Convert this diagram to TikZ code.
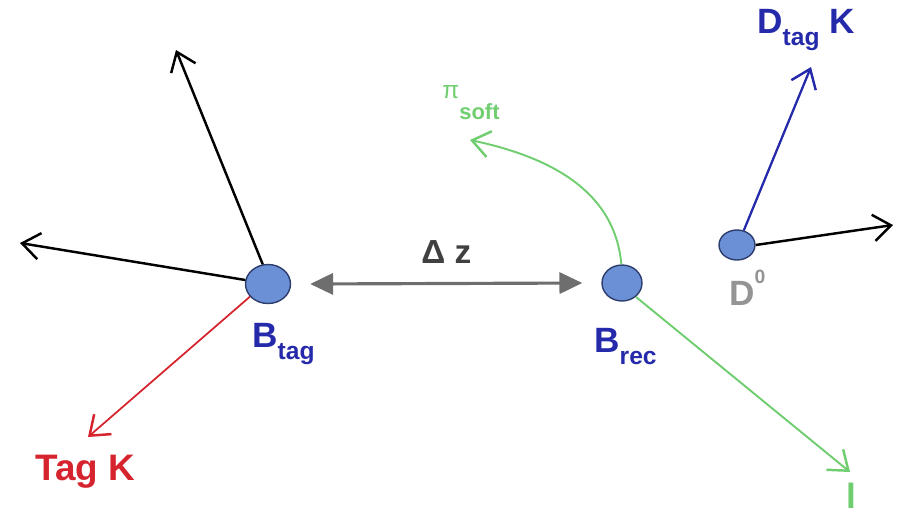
\documentclass[tikz,border=0pt]{standalone}
\usepackage{fontspec}
\setmainfont{Liberation Sans}
\usetikzlibrary{arrows.meta,positioning,shapes.geometric}
\definecolor{vtxblue}{RGB}{108,144,214}
\definecolor{vtxedge}{RGB}{45,62,110}
\definecolor{lblblue}{RGB}{36,42,170}
\definecolor{tagred}{RGB}{214,36,46}
\definecolor{softgreen}{RGB}{112,206,112}
\definecolor{dzgray}{RGB}{110,110,110}
\newcommand\lowsub[1]{\raisebox{-7pt}{\fontsize{14}{16}\selectfont #1}}

\begin{document}
\begin{tikzpicture}[x=0.02cm, y=-0.02cm, every node/.style={font=\fontsize{20}{22}\selectfont\bfseries, anchor=base west, inner sep=0pt},
  vtx/.style={draw=vtxedge, fill=vtxblue, ellipse, line width=0.8pt, anchor=center},
  trk/.style={line width=1.4pt, -{Straight Barb[length=10pt,width=15pt,line width=1.4pt]}}]
  \useasboundingbox (0,0) rectangle (904,511);
  \node[vtx, minimum width=0.9cm, minimum height=0.78cm] (btag) at (268,284) {};
  \node[vtx, minimum width=0.8cm, minimum height=0.72cm] (brec) at (622,283) {};
  \node[vtx, minimum width=0.72cm, minimum height=0.6cm] (dzero) at (737,245) {};
  \node[text=lblblue] (btaglbl) at (252,347) {B\lowsub{tag}};
  \node[text=lblblue] (breclbl) at (594,352) {B\lowsub{rec}};
  \node[text=black!42] (dzerolbl) at (729,305) {D\raisebox{12pt}{\fontsize{11}{13}\selectfont 0}};
  \node[text=tagred, font=\fontsize{21}{23}\selectfont\bfseries] (tagk) at (35,480) {Tag K};
  \node[text=lblblue] (dtagk) at (757,33) {D\lowsub{tag} K};
  \node[text=softgreen, font=\fontsize{14}{16}\selectfont] (pisoft) at (442,98) {π\raisebox{-12pt}{\fontsize{12.5}{14}\selectfont\bfseries soft}};
  \node[text=black!75, font=\fontsize{19}{21}\selectfont\bfseries] (dz) at (421,263) {Δ z};
  \node[text=softgreen] (lep) at (846,508) {l};
  % free track ends
  \coordinate (t1) at (176,50);
  \coordinate (t2) at (20,243);
  \coordinate (t3) at (893,225);
  \coordinate (t4) at (850,472);
  \coordinate (t5) at (470,140);
  \coordinate (t6) at (811,67);
  \coordinate (t7) at (88,437);
  % B tag side
  \draw[trk] (btag.105) -- (t1);
  \draw[trk] (btag.170) -- (t2);
  \draw[trk, tagred, line width=1pt] (btag.215) -- (t7);
  % flight distance
  \draw[dzgray, line width=1.8pt, {Triangle[length=13pt,width=12pt]}-{Triangle[length=13pt,width=12pt]}] ([xshift=0.38cm]btag.east) -- ([xshift=-0.38cm]brec.west);
  % B rec side
  \draw[trk, softgreen, line width=1.1pt] (brec.92) to[out=95, in=-12] (t5);
  \draw[trk, softgreen, line width=1.1pt] (brec.-45) -- (t4);
  \draw[trk, lblblue, line width=1.3pt] (dzero.65) -- (t6);
  \draw[trk] (dzero.east) -- (t3);
\end{tikzpicture}
\end{document}
